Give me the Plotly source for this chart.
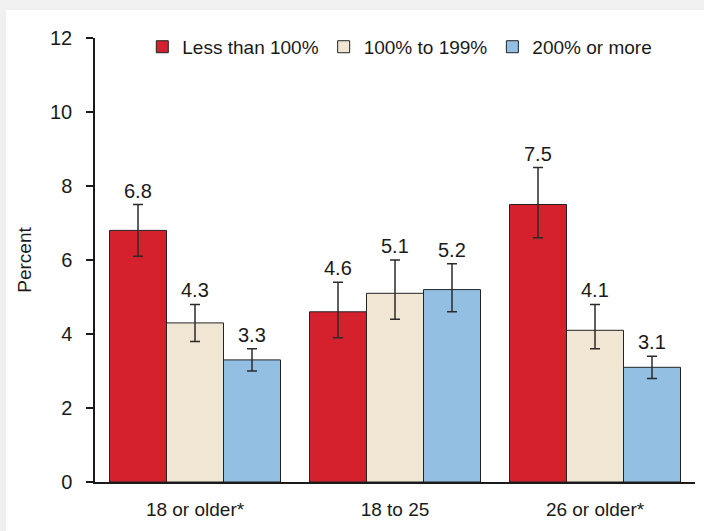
import plotly.graph_objects as go

# Age groups on the x axis
categories = ["18 or older*", "18 to 25", "26 or older*"]

# Poverty level groups
series_names = ["Less than 100%", "100% to 199%", "200% or more"]
series_colors = ["#d5212e", "#f0e6d3", "#93bfe2"]

# Estimates (percent) and their confidence limits
values = [
    [6.8, 4.6, 7.5],
    [4.3, 5.1, 4.1],
    [3.3, 5.2, 3.1],
]
upper = [
    [7.5, 5.4, 8.5],
    [4.8, 6.0, 4.8],
    [3.6, 5.9, 3.4],
]
lower = [
    [6.1, 3.9, 6.6],
    [3.8, 4.4, 3.6],
    [3.0, 4.6, 2.8],
]

FONT = "Liberation Sans, Arial, Helvetica, sans-serif"
FS = 19
FS_NUM = 20

W, H = 704, 531
ML, MR, MT, MB = 95, 9, 38, 49
BARGAP = 0.145

fig = go.Figure()
for name, color, v, hi, lo in zip(series_names, series_colors, values, upper, lower):
    fig.add_trace(go.Bar(
        name=name,
        x=categories,
        y=v,
        marker=dict(color=color, line=dict(color="#222222", width=1)),
        error_y=dict(
            type="data",
            symmetric=False,
            array=[h - y for h, y in zip(hi, v)],
            arrayminus=[y - l for l, y in zip(lo, v)],
            color="#2b2b2b",
            thickness=1.5,
            width=5,
        ),
    ))

# Value labels just above each error bar
plot_w = W - ML - MR
bar_w = plot_w / len(categories) * (1 - BARGAP) / len(series_names)
for i, (v, hi) in enumerate(zip(values, upper)):
    for j, cat in enumerate(categories):
        fig.add_annotation(
            x=cat, y=hi[j], text=f"{v[j]:.1f}",
            showarrow=False, yanchor="bottom",
            xshift=(i - 1) * bar_w, yshift=1,
            font=dict(family=FONT, size=FS_NUM, color="#1a1a1a"),
        )

# White panel over the light grey page
fig.add_shape(
    type="rect", xref="paper", yref="paper", layer="below",
    x0=(6 - ML) / plot_w, x1=(W - ML) / plot_w,
    y0=-MB / (H - MT - MB), y1=(H - MB - 10) / (H - MT - MB),
    fillcolor="white", line=dict(width=0),
)

fig.update_layout(
    width=W, height=H,
    margin=dict(l=ML, r=MR, t=MT, b=MB, pad=0),
    paper_bgcolor="#f0f0f0",
    plot_bgcolor="rgba(0,0,0,0)",
    barmode="group",
    bargap=BARGAP,
    bargroupgap=0,
    font=dict(family=FONT, size=FS, color="#1a1a1a"),
    showlegend=True,
    legend=dict(
        orientation="h", x=0.508, xanchor="center", y=0.98, yanchor="middle",
        bgcolor="rgba(0,0,0,0)", font=dict(family=FONT, size=FS),
        itemwidth=30, tracegroupgap=0,
    ),
    xaxis=dict(
        showline=True, linecolor="#1a1a1a", linewidth=1.5,
        ticks="", showgrid=False, ticklabelstandoff=9,
        tickfont=dict(family=FONT, size=FS),
    ),
    yaxis=dict(
        range=[0, 12], dtick=2, showgrid=False, zeroline=False,
        showline=True, linecolor="#1a1a1a", linewidth=1.5,
        ticks="outside", ticklen=7, tickwidth=1.5, tickcolor="#1a1a1a",
        ticklabelstandoff=10,
        tickfont=dict(family=FONT, size=FS_NUM),
        title=dict(text="Percent", font=dict(family=FONT, size=FS), standoff=13),
    ),
)

fig.write_html("out.html")
